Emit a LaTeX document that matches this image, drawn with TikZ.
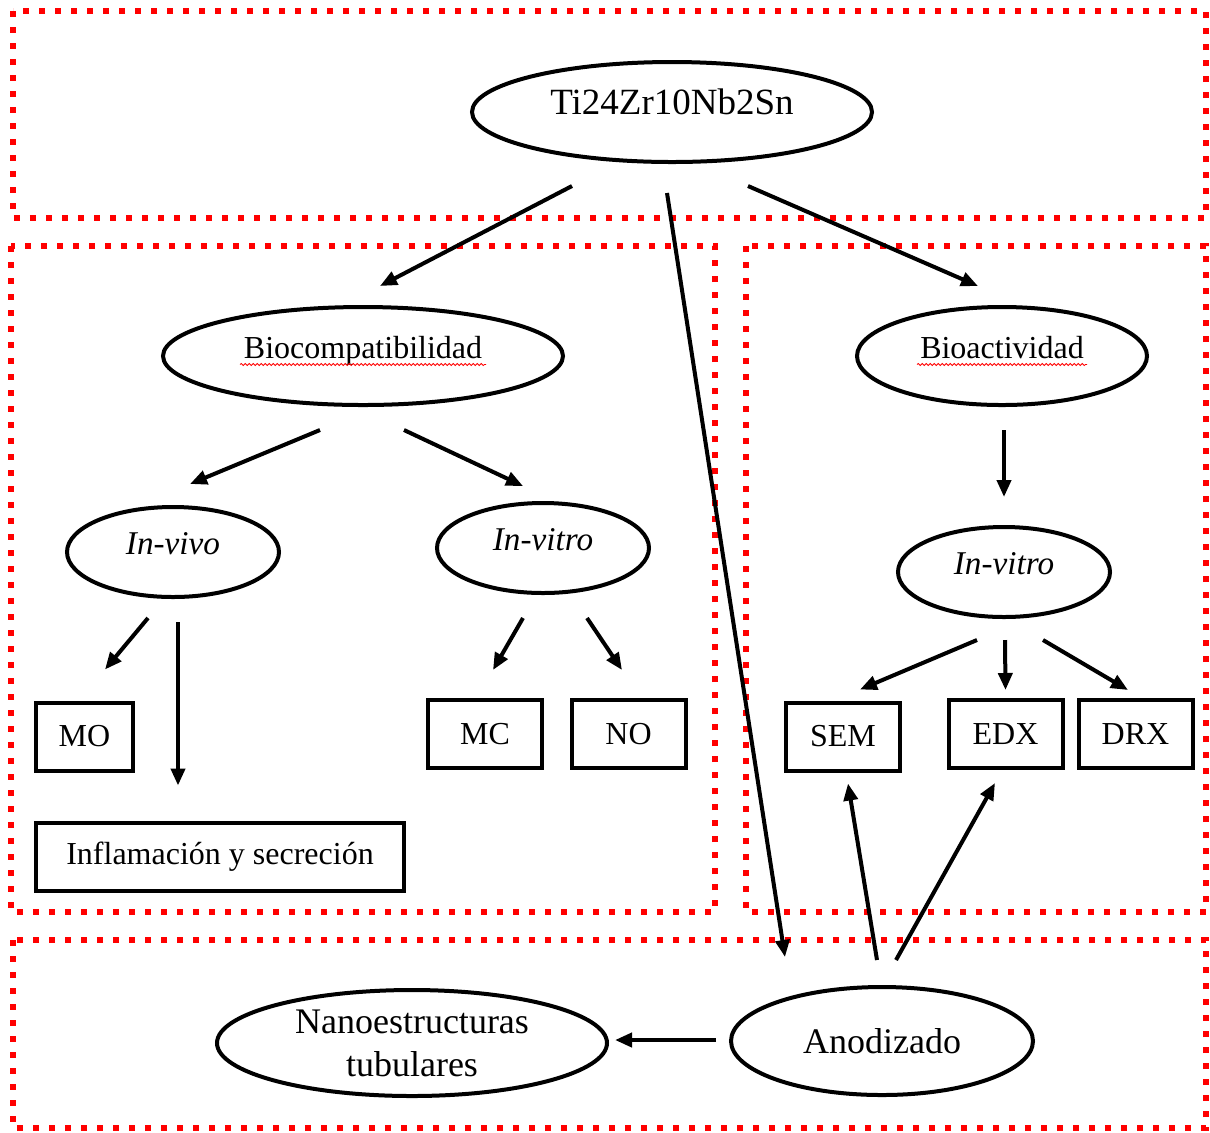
\documentclass[tikz,border=0pt]{standalone}
\usepackage{fontspec}
\setmainfont{Liberation Serif}
\usetikzlibrary{shapes.geometric,arrows.meta,decorations.pathmorphing}

\begin{document}
\begin{tikzpicture}[x=0.5pt,y=-0.5pt,
    zone/.style={red,line width=2.8pt,dash pattern=on 2.8pt off 5.2pt},
    plainoval/.style={draw,ellipse,line width=2pt,inner sep=0pt,outer sep=0pt,font=\fontsize{18}{21.5}\selectfont},
    oval/.style={plainoval,text height=0.7em,text depth=0.45em,font=\fontsize{16}{19}\selectfont},
    box/.style={draw,rectangle,line width=2pt,inner sep=0pt,outer sep=0pt,font=\fontsize{16}{19}\selectfont},
    arr/.style={line width=2pt,-{Triangle[length=8.5pt,width=7pt]}},
    squig/.style={red,line width=0.4pt,decorate,decoration={snake,amplitude=0.5pt,segment length=2pt}}]
    \useasboundingbox (0,0) rectangle (1210,1132);
    % zonas
    \draw[zone] (13,11) rectangle (1206,218);
    \draw[zone] (11,246) rectangle (715,912);
    \draw[zone] (746,246) rectangle (1206,912);
    \draw[zone] (13,940) rectangle (1206,1128);
    \node[oval,minimum width=200pt,minimum height=50pt,font=\fontsize{18.5}{22}\selectfont] (ti) at (672,112) {Ti24Zr10Nb2Sn};
    \node[oval,minimum width=200pt,minimum height=49pt] (bioc) at (363,356) {Biocompatibilidad};
    \node[oval,minimum width=145pt,minimum height=49pt] (bioa) at (1002,356) {Bioactividad};
    \draw[squig] ([shift={(-123,6)}]bioc.base) -- ([shift={(123,6)}]bioc.base);
    \draw[squig] ([shift={(-85,6)}]bioa.base) -- ([shift={(85,6)}]bioa.base);
    \begin{scope}[every node/.style={oval,minimum width=106pt,minimum height=45pt,font=\fontsize{16.6}{19}\itshape}]
        \node (vivo)   at (173,552)  {In-vivo};
        \node (vitroL) at (543,548)  {In-vitro};
        \node (vitroR) at (1004,572) {In-vitro};
    \end{scope}
    \begin{scope}[every node/.style={box,minimum width=57pt,minimum height=34pt}]
        \node[minimum width=48.5pt] (mo) at (84.5,736.5) {MO};
        \node[minimum width=184pt]  (infl) at (220,856.5) {Inflamación y secreción};
        \node (mc)  at (485,734)    {MC};
        \node (no)  at (628.5,734)  {NO};
        \node (sem) at (843,736.5)  {SEM};
        \node (edx) at (1005.5,734) {EDX};
        \node (drx) at (1135.5,734) {DRX};
    \end{scope}
    \node[plainoval,minimum width=195pt,minimum height=53pt,align=center] (nano) at (412,1043) {Nanoestructuras\\tubulares};
    \node[plainoval,minimum width=151pt,minimum height=54pt] (anod) at (882,1041) {Anodizado};
    % flechas
    \draw[arr] ([shift={(-100,24)}]ti.south) -- ([shift={(17,-21)}]bioc.north);
    \draw[arr] ([shift={(76,24)}]ti.south) -- ([shift={(-24,-21)}]bioa.north);
    \draw[arr] ([shift={(-5,31)}]ti.south) -- ([shift={(-97,-30)}]anod.north);
    \draw[arr] ([shift={(-43,25)}]bioc.south) -- ([shift={(17,-23)}]vivo.north);
    \draw[arr] ([shift={(41,25)}]bioc.south) -- ([shift={(-20,-17)}]vitroL.north);
    \draw[arr] ([shift={(2,25)}]bioa.south) -- ([shift={(0,-30)}]vitroR.north);
    \draw[arr] ([shift={(-25,21)}]vivo.south) -- ([shift={(20.5,-33)}]mo.north);
    \draw[arr] ([shift={(5,25)}]vivo.south) -- ([shift={(-42,-37)}]infl.north);
    \draw[arr] ([shift={(-20,25)}]vitroL.south) -- ([shift={(8,-30)}]mc.north);
    \draw[arr] ([shift={(44,25)}]vitroL.south) -- ([shift={(-6.5,-30)}]no.north);
    \draw[arr] ([shift={(-27,23)}]vitroR.south) -- ([shift={(17,-13)}]sem.north);
    \draw[arr] ([shift={(1,23)}]vitroR.south) -- ([shift={(0,-10)}]edx.north);
    \draw[arr] ([shift={(39,23)}]vitroR.south) -- ([shift={(-7.5,-10)}]drx.north);
    \draw[arr] ([shift={(-5,-27)}]anod.north) -- ([shift={(5,13)}]sem.south);
    \draw[arr] ([shift={(14,-27)}]anod.north) -- ([shift={(-10.5,15)}]edx.south);
    \draw[arr] ([shift={(-15,-1)}]anod.west) -- ([shift={(8,-3)}]nano.east);
\end{tikzpicture}
\end{document}
